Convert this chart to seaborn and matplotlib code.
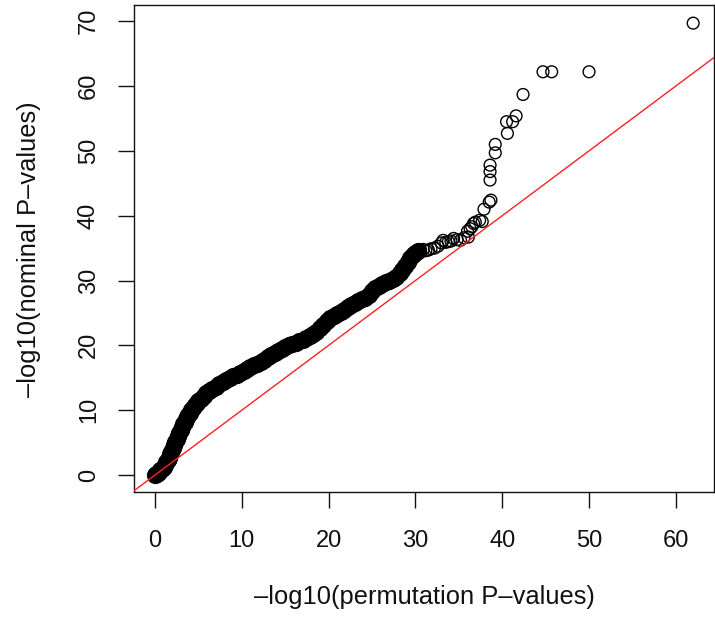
import numpy as np
import pandas as pd
import matplotlib
matplotlib.use("Agg")
import matplotlib.pyplot as plt
import seaborn as sns

# Dense part of the QQ cloud (rendered as a solid band)
dense_x = [0.0, 0.1, 0.2, 0.3, 0.45, 0.6, 0.75, 0.9, 1.0, 1.15, 1.3, 1.45, 1.6, 1.75, 1.9,
           2.05, 2.2, 2.35, 2.5, 2.65, 2.8, 2.95, 3.1, 3.25, 3.4, 3.55, 3.7, 3.85, 4.0, 4.2,
           4.4, 4.6, 4.8, 5.0,
           5.3, 5.6, 5.9, 6.2, 6.6, 7.0, 7.4, 7.8, 8.2, 8.6, 9.0, 9.4, 9.8, 10.2, 10.6,
           11.0, 11.4, 11.8, 12.2,
           12.6, 13.0, 13.4, 13.8, 14.2, 14.6, 15.0, 15.4, 15.8, 16.2, 16.6, 17.0, 17.4,
           17.8, 18.2, 18.6, 19.0, 19.4, 19.8, 20.2, 20.6, 21.0, 21.4, 21.8, 22.2, 22.6,
           23.0, 23.4, 23.8, 24.2, 24.6, 25.0, 25.4, 25.8, 26.2, 26.6, 27.0, 27.4, 27.8,
           28.2, 28.5, 28.8, 29.1, 29.4, 29.7, 30.0, 30.3]
dense_y = [0.0, 0.1, 0.15, 0.3, 0.5, 0.7, 0.9, 1.1, 1.3, 1.6, 2.0, 2.3, 2.7, 3.2, 3.6,
           4.1, 4.6, 5.1, 5.5, 6.0, 6.5, 6.9, 7.4, 7.8, 8.2, 8.6, 8.9, 9.3, 9.6, 10.0,
           10.4, 10.8, 11.1, 11.4,
           11.8, 12.2, 12.6, 12.9, 13.3, 13.6, 14.0, 14.3, 14.6, 14.9, 15.2, 15.5, 15.8,
           16.1, 16.4, 16.6, 16.9, 17.2, 17.5,
           17.8, 18.2, 18.5, 18.8, 19.1, 19.4, 19.7, 20.0, 20.2, 20.4, 20.6, 20.8, 21.1,
           21.5, 21.8, 22.1, 22.7, 23.2, 23.7, 24.2, 24.5, 24.8, 25.1, 25.5, 25.9, 26.2,
           26.5, 26.8, 27.1, 27.3, 27.8, 28.4, 28.9, 29.2, 29.5, 29.7, 29.9, 30.2, 30.6,
           31.1, 31.6, 32.2, 32.8, 33.4, 33.9, 34.3, 34.6]

# Sparse upper tail (individual open circles)
tail_x = [30.6, 30.9, 31.2, 31.5, 31.8, 32.2, 32.6, 33.0, 33.2, 33.5, 33.8, 34.1, 34.4,
          34.8, 35.2, 35.6, 36.1, 36.0, 36.3, 36.5, 36.7, 36.9, 37.4, 37.7, 37.9, 38.5,
          38.7, 38.6, 38.6, 38.6, 39.2, 39.2, 40.6, 40.5, 41.2, 41.6, 42.4, 44.7, 45.7,
          50.0, 62.0]
tail_y = [34.7, 34.8, 34.6, 34.7, 34.9, 35.0, 35.3, 35.8, 36.2, 35.9, 36.0, 36.1, 36.5,
          36.3, 36.2, 36.6, 36.7, 37.6, 38.0, 38.3, 38.8, 39.0, 39.3, 39.1, 41.0, 42.1,
          42.4, 45.5, 46.8, 47.8, 49.7, 51.0, 52.7, 54.5, 54.5, 55.4, 58.7, 62.2, 62.2,
          62.2, 69.7]

x_ticks = [0, 10, 20, 30, 40, 50, 60]
y_ticks = [0, 10, 20, 30, 40, 50, 60, 70]
x_label = "\u2013log10(permutation P\u2013values)"
y_label = "\u2013log10(nominal P\u2013values)"

sns.set_style("white")
plt.rcParams["font.family"] = ["Liberation Sans", "DejaVu Sans"]

fig = plt.figure(figsize=(7.15, 6.23), dpi=100)
ax = fig.add_axes([134 / 715, 1 - 491.7 / 623, 580 / 715, 486.7 / 623])

dense_df = pd.DataFrame({"x": dense_x, "y": dense_y})
tail_df = pd.DataFrame({"x": tail_x, "y": tail_y})

sns.scatterplot(data=dense_df, x="x", y="y", ax=ax, s=130, marker="o",
                facecolor="black", edgecolor="black", linewidth=1.0, zorder=3)
sns.scatterplot(data=tail_df, x="x", y="y", ax=ax, s=72, marker="o",
                facecolor="none", edgecolor="black", linewidth=1.0, zorder=3)

ax.axline((0, 0), slope=1, color="#ff2020", lw=1.0, zorder=4)

ax.set_xlim(-2.42, 64.4)
ax.set_ylim(-2.57, 72.5)
ax.set_xticks(x_ticks)
ax.set_yticks(y_ticks)
ax.set_xticklabels([str(v) for v in x_ticks])
ax.set_yticklabels([str(v) for v in y_ticks], rotation=90, va="center")

for sp in ax.spines.values():
    sp.set_visible(True)
    sp.set_color("#111111")
    sp.set_linewidth(1.0)

ax.tick_params(axis="both", which="major", direction="out", length=11.5, width=1.0,
               color="#111111", labelsize=17, labelcolor="#111111",
               bottom=True, left=True, top=False, right=False)
ax.tick_params(axis="x", pad=16)
ax.tick_params(axis="y", pad=13)

ax.set_xlabel(x_label, fontsize=18.4, color="#111111")
ax.set_ylabel(y_label, fontsize=18.4, color="#111111")
ax.xaxis.set_label_coords((424 - 134) / 580, (491.7 - 585) / 486.7)
ax.yaxis.set_label_coords((41 - 134) / 580, (491.7 - 249) / 486.7)
ax.xaxis.label.set_va("top")
ax.yaxis.label.set_va("bottom")

fig.savefig("out.png", dpi=100)
